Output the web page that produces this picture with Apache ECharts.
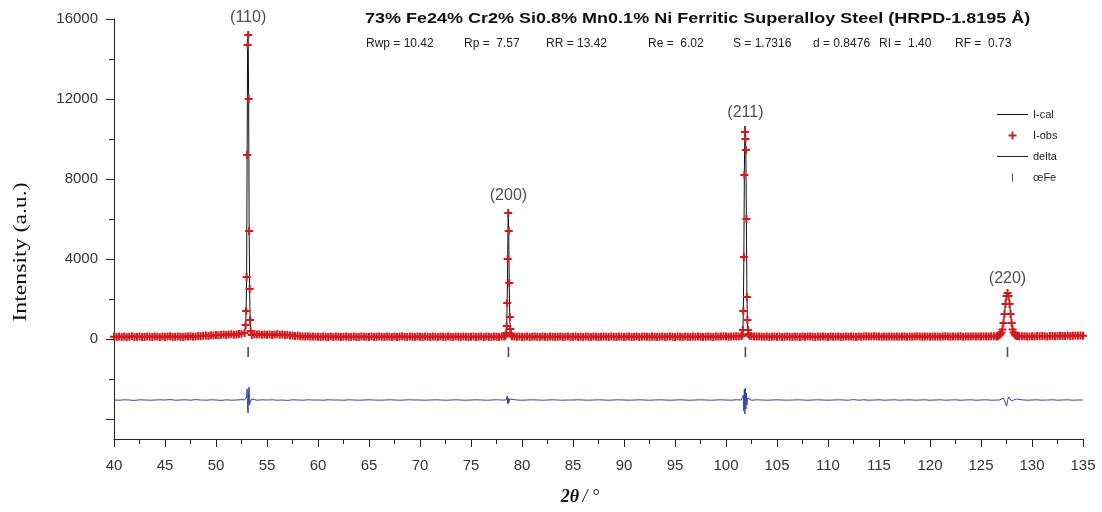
<!DOCTYPE html>
<html>
<head>
<meta charset="utf-8">
<script src="https://cdn.jsdelivr.net/npm/echarts@6/dist/echarts.min.js"></script>
<style>
  html, body { margin: 0; padding: 0; background: #fff; }
  #chart { width: 1102px; height: 512px; }
</style>
</head>
<body>
<div id="chart"></div>
<script>
// observed background, 40..135 deg every 0.25 deg (null = inside a peak window)
const bgStart = 40;
const bgStep = 0.25;
const bgObs = [
  110,95,130,105,120,90,115,140,100,110,125,95,105,130,115,100,120,110,90,125,
  105,120,135,100,115,125,110,95,130,120,140,115,125,150,135,160,175,150,190,170,
  200,185,210,230,195,220,240,215,230,250,260,null,null,null,null,240,220,235,210,225,
  215,230,200,220,240,210,225,195,210,180,170,150,160,140,130,125,135,115,120,110,
  115,100,125,110,95,120,105,130,110,100,115,125,95,110,120,105,100,130,115,110,
  105,120,95,115,130,110,100,125,115,105,120,95,110,135,115,100,120,110,105,125,
  110,100,120,115,95,125,110,105,130,115,100,120,110,95,125,115,105,120,110,100,
  115,125,105,110,130,100,120,115,105,125,110,100,130,120,null,null,140,120,110,125,
  105,115,120,100,110,125,115,105,120,110,100,130,115,105,110,120,100,115,125,105,
  110,120,100,115,105,125,110,100,120,115,105,110,130,115,100,120,110,105,125,115,
  100,110,120,105,115,125,100,110,120,115,105,130,110,100,115,120,105,110,125,115,
  105,120,110,100,125,115,105,120,110,130,115,100,110,125,115,105,120,110,130,140,
  125,115,130,120,135,125,150,null,null,null,150,130,120,125,115,110,120,105,115,125,
  110,120,105,115,125,110,100,120,115,105,125,110,120,130,115,105,120,110,125,115,
  105,120,115,110,125,105,115,120,110,130,115,105,120,110,125,140,130,120,135,125,
  120,110,125,115,130,120,110,125,115,120,130,115,125,110,120,135,120,115,125,130,
  115,125,130,120,110,125,135,120,115,130,125,120,135,115,125,130,120,140,125,130,
  125,135,120,130,140,135,null,null,null,null,null,null,null,null,null,150,140,135,125,130,
  140,130,145,135,150,140,130,145,155,140,150,160,145,155,170,150,165,175,160,170,
  165
];

// calculated background knots
const calcKnotTheta = [40, 44, 48, 50, 52, 52.7, 53.6, 55, 57, 58, 60, 70, 78.3, 79.1, 90, 100, 101.5,
  102.4, 104, 110, 115, 120, 126.4, 128.8, 130, 133, 135];
const calcKnotVal = [110, 112, 130, 200, 235, 250, 235, 220, 180, 140, 115, 112, 118, 120, 115, 120, 135,
  140, 120, 118, 125, 125, 135, 140, 140, 155, 165];

// peaks
const p110Theta = [52.80, 52.90, 52.95, 53.00, 53.05, 53.10, 53.15, 53.20, 53.25, 53.30, 53.35, 53.40, 53.50];
const p110Obs = [300, 700, 1400, 3100, 9200, 14700, 15200, 12000, 5400, 2500, 950, 400, 200];
const p110Calc = [250, 600, 1300, 3000, 9000, 14900, 15300, 12200, 5500, 2400, 900, 350, 180];

const p200Theta = [78.40, 78.45, 78.50, 78.55, 78.60, 78.65, 78.70, 78.75, 78.80, 78.85, 78.90, 79.00];
const p200Obs = [180, 300, 650, 1800, 4000, 6300, 5400, 2800, 1100, 500, 250, 150];
const p200Calc = [150, 280, 600, 1900, 4200, 6400, 5300, 2700, 1050, 450, 220, 130];

const p211Theta = [101.60, 101.65, 101.70, 101.75, 101.80, 101.85, 101.90, 101.95, 102.00, 102.05, 102.10, 102.15, 102.20, 102.30];
const p211Obs = [200, 450, 1400, 4100, 8200, 10350, 10000, 9450, 6000, 2100, 950, 450, 250, 160];
const p211Calc = [180, 420, 1350, 4000, 8400, 10650, 10300, 9200, 5900, 2200, 900, 420, 230, 150];

const p220Theta = [126.5, 126.6, 126.7, 126.8, 126.9, 127.0, 127.1, 127.2, 127.3, 127.4, 127.5, 127.6,
  127.7, 127.8, 127.9, 128.0, 128.1, 128.2, 128.3, 128.4, 128.5, 128.6, 128.7];
const p220Obs = [130, 140, 160, 190, 240, 330, 480, 800, 1250, 1750, 2150, 2300,
  2150, 1750, 1250, 800, 480, 320, 230, 180, 155, 145, 140];
const p220Calc = [130, 138, 155, 185, 245, 340, 500, 820, 1270, 1760, 2140, 2290,
  2160, 1760, 1260, 810, 490, 315, 225, 178, 152, 143, 140];

// difference curve, 40..135 every 0.5 deg, plus detail at the peaks
const deltaStep = 0.5;
const deltaBg = [
  -3050,-3060,-3040,-3050,-3070,-3040,-3050,-3060,-3050,-3040,
  -3050,-3030,-3060,-3050,-3040,-3060,-3030,-3050,-3060,-3040,
  -3050,-3070,-3040,-3060,-3050,-3030,null,null,-3060,-3040,
  -3050,-3040,-3060,-3050,-3070,-3040,-3050,-3060,-3040,-3050,
  -3050,-3060,-3040,-3050,-3050,-3060,-3040,-3050,-3060,-3050,
  -3040,-3050,-3060,-3050,-3040,-3050,-3060,-3050,-3040,-3050,
  -3050,-3060,-3050,-3040,-3050,-3060,-3050,-3040,-3050,-3060,
  -3050,-3040,-3050,-3060,-3050,-3040,-3050,null,null,-3050,
  -3060,-3050,-3040,-3050,-3060,-3050,-3040,-3050,-3060,-3050,
  -3050,-3040,-3050,-3060,-3050,-3040,-3050,-3060,-3050,-3040,
  -3050,-3060,-3050,-3040,-3050,-3060,-3050,-3040,-3050,-3060,
  -3050,-3040,-3050,-3060,-3050,-3040,-3050,-3060,-3050,-3040,
  -3050,-3060,-3040,-3050,null,-3060,-3040,-3050,-3060,-3050,
  -3040,-3050,-3060,-3050,-3040,-3050,-3060,-3050,-3040,-3050,
  -3060,-3050,-3040,-3050,-3060,-3030,-3060,-3040,-3060,-3050,
  -3040,-3060,-3050,-3040,-3060,-3050,-3040,-3060,-3050,-3040,
  -3060,-3050,-3040,-3060,-3050,-3040,-3060,-3050,-3040,-3060,
  -3050,-3040,-3060,null,null,null,null,null,-3040,-3060,
  -3050,-3040,-3060,-3050,-3040,-3060,-3050,-3040,-3060,-3050,
  -3050
];
const d110Theta = [52.80, 52.90, 53.00, 53.05, 53.10, 53.15, 53.20, 53.25, 53.30, 53.35, 53.40, 53.50];
const d110Val = [-3050, -3000, -2900, -2500, -3500, -3700, -2600, -2400, -3300, -3150, -3050, -3000];
const d200Theta = [78.45, 78.55, 78.60, 78.65, 78.70, 78.80, 78.90];
const d200Val = [-3050, -2850, -3250, -2950, -3200, -3000, -3050];
const d211Theta = [101.65, 101.70, 101.75, 101.80, 101.85, 101.90, 101.95, 102.00, 102.05, 102.10, 102.20];
const d211Val = [-3050, -2800, -3600, -2500, -3750, -2450, -3500, -2700, -3300, -2950, -3050];
const d220Theta = [126.8, 127.0, 127.2, 127.4, 127.5, 127.6, 127.7, 127.8, 128.0, 128.2, 128.5];
const d220Val = [-3050, -3000, -2950, -3200, -3350, -3100, -2900, -2950, -3100, -3050, -3000];

// reflections
const hklNames = ['(110)', '(200)', '(211)', '(220)'];
const hklTheta = [53.15, 78.67, 101.9, 127.6];
const hklLabelY = [16050, 7150, 11300, 3000];
const reflTickY = -650;

const yLabelValues = [0, 4000, 8000, 12000, 16000];
const yMajorTicks = [-4000, 0, 4000, 8000, 12000, 16000];
const yMinorTicks = [-2000, 2000, 6000, 10000, 14000];

const stats = [
  ['Rwp = 10.42', 366], ['Rp =  7.57', 464], ['RR = 13.42', 546], ['Re =  6.02', 648],
  ['S = 1.7316', 733], ['d = 0.8476', 813], ['RI =  1.40', 879], ['RF =  0.73', 955]
];

function pairs(xs, ys) {
  return xs.map((x, i) => [x, ys[i]]);
}

const obsData = bgObs
  .map((v, i) => [bgStart + i * bgStep, v])
  .filter(p => p[1] !== null)
  .concat(pairs(p110Theta, p110Obs), pairs(p200Theta, p200Obs),
          pairs(p211Theta, p211Obs), pairs(p220Theta, p220Obs));

const calcData = pairs(calcKnotTheta, calcKnotVal)
  .concat(pairs(p110Theta, p110Calc), pairs(p200Theta, p200Calc),
          pairs(p211Theta, p211Calc), pairs(p220Theta, p220Calc))
  .sort((a, b) => a[0] - b[0]);

const deltaData = deltaBg
  .map((v, i) => [bgStart + i * deltaStep, v])
  .filter(p => p[1] !== null)
  .concat(pairs(d110Theta, d110Val), pairs(d200Theta, d200Val),
          pairs(d211Theta, d211Val), pairs(d220Theta, d220Val))
  .sort((a, b) => a[0] - b[0]);

const plusPath = 'path://M3,0h2v3h3v2h-3v3h-2v-3h-3v-2h3z';
const barPath = 'path://M0,0h1v8h-1z';
const linePath = 'path://M0,0h31v1h-31z';
const sans = 'Liberation Sans';

const chart = echarts.init(document.getElementById('chart'));

chart.setOption({
  animation: false,
  backgroundColor: '#fff',
  grid: { left: 114, right: 19, top: 19, bottom: 73 },
  legend: {
    data: [
      { name: 'I-cal', icon: linePath },
      { name: 'I-obs', icon: plusPath, itemStyle: { color: '#b3282b' } },
      { name: 'delta', icon: linePath, itemStyle: { color: '#222' } },
      { name: 'œFe', icon: barPath }
    ],
    orient: 'vertical',
    left: 992,
    top: 104,
    itemWidth: 31,
    itemHeight: 8,
    itemGap: 10,
    symbolKeepAspect: true,
    textStyle: { fontFamily: sans, fontSize: 11, color: '#222' }
  },
  xAxis: {
    type: 'value',
    min: 40,
    max: 135,
    interval: 5,
    axisLine: { onZero: false, lineStyle: { color: '#222', width: 1 } },
    axisTick: { length: 8, lineStyle: { color: '#222' } },
    minorTick: { show: true, splitNumber: 2, length: 5, lineStyle: { color: '#222' } },
    splitLine: { show: false },
    axisLabel: { fontFamily: sans, fontSize: 15, color: '#333', margin: 19 }
  },
  yAxis: [
    {
      type: 'value',
      min: -5000,
      max: 16000,
      axisLine: { show: true, lineStyle: { color: '#222', width: 1 } },
      axisTick: { show: true, length: 8, customValues: yMajorTicks, lineStyle: { color: '#222' } },
      splitLine: { show: false },
      axisLabel: {
        customValues: yLabelValues,
        formatter: v => String(v),
        fontFamily: sans,
        fontSize: 15,
        color: '#333',
        margin: 16
      }
    },
    {
      type: 'value',
      min: -5000,
      max: 16000,
      position: 'left',
      axisLine: { show: false },
      axisTick: { show: true, length: 5, customValues: yMinorTicks, lineStyle: { color: '#222' } },
      splitLine: { show: false },
      axisLabel: { show: false }
    }
  ],
  graphic: stats.map(s => ({
    type: 'text',
    left: s[1],
    top: 38,
    style: { text: s[0], fontFamily: sans, fontSize: 12, fill: '#222' }
  })).concat([
    {
      type: 'text',
      x: 365,
      y: 19,
      scaleX: 1.2,
      style: {
        text: '73% Fe24% Cr2% Si0.8% Mn0.1% Ni Ferritic Superalloy Steel (HRPD-1.8195 Å)',
        fontFamily: sans,
        fontSize: 15,
        fontWeight: 'bold',
        fill: '#111',
        verticalAlign: 'middle'
      }
    },
    {
      type: 'text',
      x: 21,
      y: 252,
      rotation: Math.PI / 2,
      scaleX: 1.25,
      style: {
        text: 'Intensity (a.u.)',
        fontFamily: 'Liberation Serif',
        fontSize: 19,
        fill: '#111',
        align: 'center',
        verticalAlign: 'middle'
      }
    },
    {
      type: 'text',
      x: 580,
      y: 497,
      style: {
        text: '{a|2θ} {b|/ °}',
        align: 'center',
        verticalAlign: 'middle',
        rich: {
          a: { fontFamily: 'Liberation Serif', fontSize: 18, fontStyle: 'italic', fontWeight: 'bold', fill: '#111' },
          b: { fontFamily: 'Liberation Serif', fontSize: 18, fontStyle: 'italic', fill: '#111' }
        }
      }
    }
  ]),
  series: [
    {
      name: 'I-cal',
      type: 'line',
      data: calcData,
      symbol: 'none',
      z: 2,
      lineStyle: { color: '#111', width: 1 },
      itemStyle: { color: '#111' }
    },
    {
      name: 'I-obs',
      type: 'scatter',
      data: obsData,
      symbol: plusPath,
      symbolSize: 8,
      symbolKeepAspect: true,
      z: 3,
      itemStyle: { color: '#d11a1f', opacity: 1 }
    },
    {
      name: 'delta',
      type: 'line',
      data: deltaData,
      symbol: 'none',
      z: 2,
      lineStyle: { color: '#34469a', width: 1 },
      itemStyle: { color: '#34469a' }
    },
    {
      name: 'œFe',
      type: 'scatter',
      data: hklTheta.map(t => [t, reflTickY]),
      symbol: 'rect',
      symbolSize: [1.6, 10],
      z: 2,
      itemStyle: { color: '#222' }
    },
    {
      name: 'hkl',
      type: 'scatter',
      data: hklTheta.map((t, i) => ({ value: [t, hklLabelY[i]], name: hklNames[i] })),
      symbolSize: 0,
      clip: false,
      silent: true,
      label: {
        show: true,
        position: 'inside',
        formatter: p => p.name,
        fontFamily: sans,
        fontSize: 16,
        color: '#222'
      }
    }
  ]
});
</script>
</body>
</html>
